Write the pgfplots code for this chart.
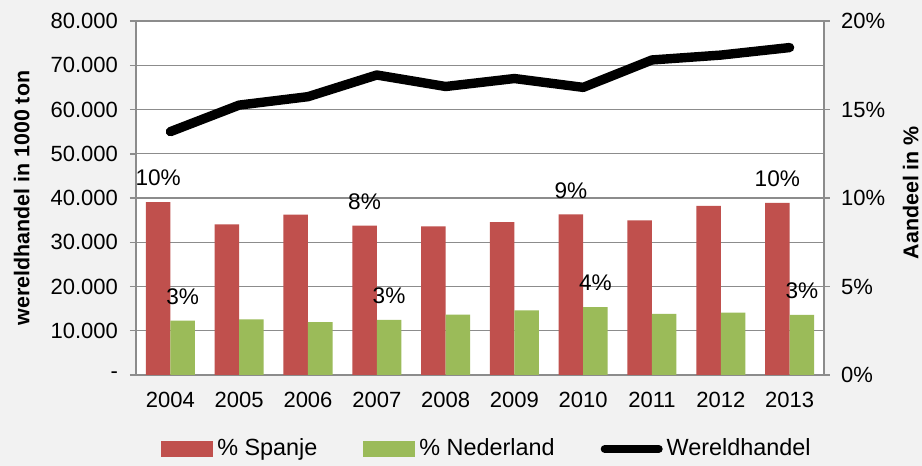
\documentclass[border=0pt]{standalone}
\usepackage{fontspec}
\setmainfont{Liberation Sans}
\usepackage{pgfplots}
\pgfplotsset{compat=1.18}
\definecolor{bg}{HTML}{F2F2F2}
\definecolor{spred}{HTML}{C0504D}
\definecolor{nlgreen}{HTML}{9BBB59}
\definecolor{axgrey}{HTML}{8C8C8C}
\begin{document}
\begin{tikzpicture}
\fill[bg] (0,0) rectangle (461pt,233pt);
\pgfplotsset{
  common/.style={
    scale only axis, width=344pt, height=177pt,
    at={(68pt,45.5pt)}, anchor=south west,
    xmin=-0.5, xmax=9.5,
    font=\fontsize{11pt}{12pt}\selectfont,
    /pgf/number format/assume math mode=true,
    scaled y ticks=false,
    axis line style={axgrey, line width=0.75pt},
    tick style={axgrey, line width=0.75pt},
    tick align=outside,
    major tick length=3pt, minor tick length=3pt,
  }
}
% left axis: world trade line
\begin{axis}[common,
  axis background/.style={fill=white},
  ymin=0, ymax=80000,
  ytick={0,10000,...,80000},
  yticklabels={-,10.000,20.000,30.000,40.000,50.000,60.000,70.000,80.000},
  axis x line*=bottom, axis y line*=left,
  xtick={0,...,9},
  xticklabels={2004,2005,2006,2007,2008,2009,2010,2011,2012,2013},
  minor xtick={-0.5,0.5,...,9.5},
  xtick style={draw=none},
  minor x tick style={axgrey, line width=0.75pt},
  ymajorgrids, grid style={axgrey, line width=0.6pt},
  xticklabel style={yshift=-2pt},
  yticklabel style={xshift=-2.5pt},
  ylabel={\bfseries\fontsize{10.7pt}{12pt}\selectfont wereldhandel in 1000 ton},
  ylabel style={at={(axis description cs:-0.166,0.5)}, anchor=center},
]
\addplot[black, line width=4.7pt, line join=round, line cap=round] coordinates {
(0,55000) (1,61000) (2,62900) (3,67800) (4,65200) (5,67000) (6,65000) (7,71200) (8,72300) (9,74000)};
\end{axis}
% right axis: shares
\begin{axis}[common,
  ymin=0, ymax=20,
  axis x line=none, axis y line*=right,
  ytick={0,5,10,15,20},
  yticklabels={0\%,5\%,10\%,15\%,20\%},
  yticklabel style={xshift=2pt},
  ybar=0pt, bar width=12.25pt,
  nodes near coords, point meta=explicit symbolic,
  every node near coord/.append style={anchor=center, yshift=12pt, font=\fontsize{11.3pt}{12pt}\selectfont, black},
  ylabel={\bfseries\fontsize{10.7pt}{12pt}\selectfont Aandeel in \%},
  ylabel style={at={(axis description cs:1.126,0.515)}, anchor=center},
  legend columns=3,
  legend style={at={(axis description cs:0.5116,-0.209)}, anchor=center, draw=none, fill=none,
    /tikz/every even column/.append style={column sep=21pt}, font=\fontsize{11.7pt}{13pt}\selectfont},
  legend cell align=left,
]
\addplot[fill=spred, draw=none, legend image code/.code={\fill[spred] (0pt,-4pt) rectangle (26pt,4pt);}] coordinates {
(0,9.77) [10\%] (1,8.51) [] (2,9.06) [] (3,8.44) [8\%] (4,8.40) [] (5,8.64) [] (6,9.08) [9\%] (7,8.74) [] (8,9.55) [] (9,9.72) [10\%]};
\addlegendentry{\% Spanje}
\addplot[fill=nlgreen, draw=none, legend image code/.code={\fill[nlgreen] (0pt,-4pt) rectangle (26pt,4pt);}] coordinates {
(0,3.07) [3\%] (1,3.14) [] (2,2.99) [] (3,3.11) [3\%] (4,3.41) [] (5,3.65) [] (6,3.84) [4\%] (7,3.45) [] (8,3.52) [] (9,3.39) [3\%]};
\addlegendentry{\% Nederland}
\addlegendimage{legend image code/.code={\draw[black, line width=4pt, line cap=round] (1pt,0pt) -- (28pt,0pt);}}
\addlegendentry{Wereldhandel}
\end{axis}
\pgfresetboundingbox
\useasboundingbox (0,0) rectangle (461pt,233pt);
\end{tikzpicture}
\end{document}
